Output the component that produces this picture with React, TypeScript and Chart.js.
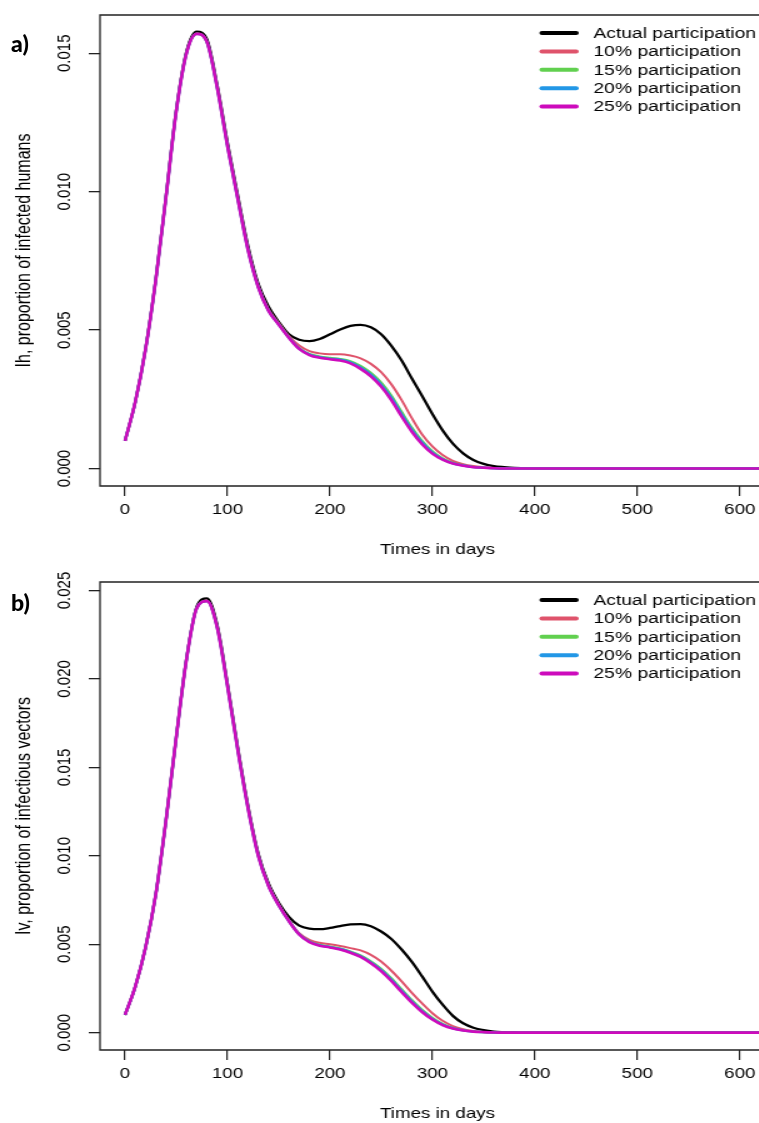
import { useEffect, useRef } from "react";
import { Chart, registerables } from "chart.js";

Chart.register(...registerables);

// ---------- data ----------
const times = [
  0, 10, 20, 30, 40, 50, 60, 70, 80, 90, 100, 110, 120, 130, 140, 150, 160, 170, 180, 190, 200,
  210, 220, 230, 240, 250, 260, 270, 280, 290, 300, 310, 320, 330, 340, 350, 360, 370, 380, 390, 400,
  500, 730,
];

const seriesLabels = [
  "Actual participation",
  "10% participation",
  "15% participation",
  "20% participation",
  "25% participation",
];
const seriesColors = ["#000000", "#DF536B", "#61D04F", "#2297E6", "#CD0BBC"];

const xTickValues = [0, 100, 200, 300, 400, 500, 600];
const yTickValuesHumans = [0, 0.005, 0.01, 0.015];
const yTickValuesVectors = [0, 0.005, 0.01, 0.015, 0.02, 0.025];

// Ih: proportion of infected humans
const humansActual = [
  0.001, 0.0024, 0.00431, 0.00682, 0.00983, 0.01294, 0.01506, 0.01578, 0.0155, 0.01385, 0.01178,
  0.00988, 0.00805, 0.00668, 0.00585, 0.0053, 0.00485, 0.00465, 0.0046, 0.00468, 0.00485,
  0.00502, 0.00515, 0.00519, 0.0051, 0.00485, 0.00443, 0.0039, 0.00325, 0.00262, 0.00197,
  0.00138, 0.0009, 0.00055, 0.00031, 0.00017, 0.00009, 0.00005, 0.00002, 0.00001, 0,
  0, 0,
];
const humans10 = [
  0.001, 0.0024, 0.0043, 0.0068, 0.0098, 0.0129, 0.015, 0.01571, 0.01541, 0.01377, 0.01168,
  0.00978, 0.00794, 0.0066, 0.00576, 0.00526, 0.00478, 0.00444, 0.00424, 0.00416, 0.00413,
  0.00413, 0.00408, 0.00398, 0.00378, 0.00348, 0.00304, 0.00247, 0.00182, 0.00123, 0.0008,
  0.00049, 0.00028, 0.00016, 0.00009, 0.00005, 0.00002, 0.00001, 0, 0, 0,
  0, 0,
];
const humans15 = [
  0.001, 0.0024, 0.0043, 0.0068, 0.0098, 0.0129, 0.015, 0.0157, 0.0154, 0.01376, 0.01166,
  0.00976, 0.00792, 0.00657, 0.00572, 0.00522, 0.00474, 0.00435, 0.00414, 0.00405, 0.004,
  0.00396, 0.00388, 0.00371, 0.00346, 0.00311, 0.00264, 0.00205, 0.00148, 0.001, 0.00063,
  0.00037, 0.00021, 0.00012, 0.00006, 0.00003, 0.00001, 0, 0, 0, 0,
  0, 0,
];
const humans20 = [
  0.001, 0.0024, 0.0043, 0.0068, 0.0098, 0.0129, 0.015, 0.0157, 0.0154, 0.01375, 0.01165,
  0.00975, 0.00791, 0.00656, 0.00571, 0.00521, 0.00473, 0.00433, 0.00412, 0.00402, 0.00397,
  0.00393, 0.00384, 0.00365, 0.00339, 0.00303, 0.00255, 0.00196, 0.0014, 0.00094, 0.00058,
  0.00034, 0.00019, 0.00011, 0.00005, 0.00003, 0.00001, 0, 0, 0, 0,
  0, 0,
];
const humans25 = [
  0.001, 0.0024, 0.0043, 0.0068, 0.0098, 0.0129, 0.015, 0.0157, 0.0154, 0.01375, 0.01165,
  0.00975, 0.0079, 0.00655, 0.0057, 0.0052, 0.00472, 0.00432, 0.0041, 0.004, 0.00395,
  0.0039, 0.0038, 0.0036, 0.00333, 0.00296, 0.00247, 0.00188, 0.00133, 0.00088, 0.00054,
  0.00032, 0.00018, 0.0001, 0.00005, 0.00003, 0.00001, 0, 0, 0, 0,
  0, 0,
];

// Iv: proportion of infectious vectors
const vectorsActual = [
  0.001, 0.0026, 0.0048, 0.0078, 0.0120, 0.0167, 0.02115, 0.02408, 0.02455, 0.02305, 0.01975,
  0.01615, 0.01285, 0.01015, 0.00845, 0.00735, 0.00655, 0.00605, 0.00588, 0.00585, 0.00592,
  0.00603, 0.00612, 0.00614, 0.00602, 0.00572, 0.0053, 0.0047, 0.004, 0.00318, 0.00232,
  0.00158, 0.00095, 0.00053, 0.00028, 0.00014, 0.00006, 0.00003, 0.00001, 0, 0,
  0, 0,
];
const vectors10 = [
  0.001, 0.0026, 0.0048, 0.0078, 0.012, 0.0167, 0.0211, 0.02401, 0.02442, 0.02292, 0.01963,
  0.01604, 0.01275, 0.01006, 0.00837, 0.00727, 0.00636, 0.00562, 0.00525, 0.00508, 0.005,
  0.0049, 0.00478, 0.00465, 0.0044, 0.00402, 0.0035, 0.0029, 0.00225, 0.00165, 0.0011,
  0.00067, 0.00037, 0.00019, 0.00009, 0.00004, 0.00002, 0.00001, 0, 0, 0,
  0, 0,
];
const vectors15 = [
  0.001, 0.0026, 0.0048, 0.0078, 0.012, 0.0167, 0.0211, 0.024, 0.0244, 0.02291, 0.01961,
  0.01602, 0.01272, 0.01002, 0.00832, 0.00722, 0.00632, 0.00557, 0.00516, 0.00497, 0.00487,
  0.00476, 0.00459, 0.00437, 0.00404, 0.00362, 0.00308, 0.00246, 0.00185, 0.0013, 0.00085,
  0.0005, 0.00027, 0.00014, 0.00007, 0.00003, 0.00001, 0, 0, 0, 0,
  0, 0,
];
const vectors20 = [
  0.001, 0.0026, 0.0048, 0.0078, 0.012, 0.0167, 0.0211, 0.024, 0.0244, 0.0229, 0.0196,
  0.01601, 0.01271, 0.01001, 0.00831, 0.00721, 0.00631, 0.00556, 0.00514, 0.00494, 0.00484,
  0.00473, 0.00455, 0.00432, 0.00397, 0.00354, 0.00299, 0.00237, 0.00176, 0.00122, 0.00078,
  0.00046, 0.00025, 0.00013, 0.00006, 0.00003, 0.00001, 0, 0, 0, 0,
  0, 0,
];
const vectors25 = [
  0.001, 0.0026, 0.0048, 0.0078, 0.012, 0.0167, 0.0211, 0.024, 0.0244, 0.0229, 0.0196,
  0.016, 0.0127, 0.01, 0.0083, 0.0072, 0.0063, 0.00555, 0.00512, 0.00492, 0.00482,
  0.0047, 0.00452, 0.00428, 0.00392, 0.00348, 0.00292, 0.0023, 0.0017, 0.00117, 0.00074,
  0.00043, 0.00023, 0.00012, 0.00006, 0.00003, 0.00001, 0, 0, 0, 0,
  0, 0,
];

const humansSeries = [humansActual, humans10, humans15, humans20, humans25];
const vectorsSeries = [vectorsActual, vectors10, vectors15, vectors20, vectors25];

// ---------- styling ----------
const STRETCH = 1.25; // the reference picture is stretched horizontally
const FONT = '"Liberation Sans", Arial, Helvetica, sans-serif';
const lineWidths = [2.3, 2, 2, 2.4, 2.6];
const drawOrder = [4, 3, 2, 1, 0];

const framePlugin = {
  id: "rframe",
  afterDatasetsDraw(chart: any) {
    const { ctx, chartArea } = chart;
    const { left, top, right, bottom } = chartArea;
    ctx.save();
    ctx.strokeStyle = "#222";
    ctx.lineWidth = 1.3;
    ctx.beginPath();
    ctx.moveTo(right + 5, top);
    ctx.lineTo(left, top);
    ctx.lineTo(left, bottom);
    ctx.lineTo(right + 5, bottom);
    ctx.stroke();
    ctx.restore();
  },
};

const legendPlugin = {
  id: "rlegend",
  afterDraw(chart: any) {
    const { ctx, chartArea } = chart;
    ctx.save();
    ctx.font = `15.4px ${FONT}`;
    ctx.textAlign = "left";
    ctx.textBaseline = "middle";
    ctx.lineCap = "round";
    chart.data.datasets.forEach((ds: any, i: number) => {
      const y = chartArea.top + 18 + i * 18.4;
      ctx.strokeStyle = ds.borderColor;
      ctx.lineWidth = 4;
      ctx.beginPath();
      ctx.moveTo(chartArea.right - 186.5, y);
      ctx.lineTo(chartArea.right - 159, y);
      ctx.stroke();
      ctx.fillStyle = "#000";
      ctx.fillText(ds.label, chartArea.right - 145.2, y + 0.5);
    });
    ctx.restore();
  },
};

function makeConfig(
  series: number[][],
  yMin: number,
  yMax: number,
  yTicks: number[],
  yTitle: string,
  topPad: number,
  xScaleHeight: number,
  xTitlePadBottom: number
): any {
  return {
    type: "line",
    data: {
      datasets: series.map((vals, i) => ({
        label: seriesLabels[i],
        data: times.map((t, j) => ({ x: t, y: vals[j] })),
        borderColor: seriesColors[i],
        backgroundColor: seriesColors[i],
        borderWidth: lineWidths[i],
        pointRadius: 0,
        cubicInterpolationMode: "monotone",
        fill: false,
        order: drawOrder[i],
      })),
    },
    options: {
      animation: false,
      responsive: false,
      devicePixelRatio: 1,
      events: [],
      layout: { padding: { left: 0, top: topPad, right: 20, bottom: 0 } },
      plugins: {
        legend: { display: false },
        tooltip: { enabled: false },
        title: { display: false },
      },
      scales: {
        x: {
          type: "linear",
          position: "bottom",
          min: -24.4,
          max: 634.4,
          afterBuildTicks: (scale: any) => {
            scale.ticks = xTickValues.map((v) => ({ value: v }));
          },
          afterFit: (scale: any) => {
            scale.height = xScaleHeight;
          },
          ticks: {
            autoSkip: false,
            maxRotation: 0,
            minRotation: 0,
            padding: 5,
            color: "#000",
            font: { family: FONT, size: 15 },
            callback: (v: any) => String(v),
          },
          grid: {
            display: true,
            drawOnChartArea: false,
            drawTicks: true,
            tickLength: 10,
            color: "#222",
            lineWidth: 1.2,
          },
          border: { display: false },
          title: {
            display: true,
            text: "Times in days",
            color: "#000",
            font: { family: FONT, size: 15 },
            padding: { top: 0, bottom: xTitlePadBottom },
          },
        },
        y: {
          type: "linear",
          position: "left",
          min: yMin,
          max: yMax,
          afterBuildTicks: (scale: any) => {
            scale.ticks = yTicks.map((v) => ({ value: v }));
          },
          afterFit: (scale: any) => {
            scale.width = 80;
          },
          ticks: {
            autoSkip: false,
            minRotation: 90,
            maxRotation: 90,
            crossAlign: "center",
            padding: 0,
            color: "#000",
            font: { family: FONT, size: 15 },
            callback: (v: any) => Number(v).toFixed(3),
          },
          grid: {
            display: true,
            drawOnChartArea: false,
            drawTicks: true,
            tickLength: 9,
            color: "#222",
            lineWidth: 1.3,
          },
          border: { display: false },
          title: {
            display: true,
            text: yTitle,
            color: "#000",
            font: { family: FONT, size: 16 },
            padding: { top: 10, bottom: 0 },
          },
        },
      },
    },
    plugins: [framePlugin, legendPlugin],
  };
}

export default function App() {
  const refA = useRef<HTMLCanvasElement | null>(null);
  const refB = useRef<HTMLCanvasElement | null>(null);

  useEffect(() => {
    const a = new Chart(
      refA.current as HTMLCanvasElement,
      makeConfig(humansSeries, -0.00063, 0.01638, yTickValuesHumans, "Ih, proportion of infected humans", 15, 84, 11)
    );
    const b = new Chart(
      refB.current as HTMLCanvasElement,
      makeConfig(vectorsSeries, -0.00098, 0.02548, yTickValuesVectors, "Iv, proportion of infectious vectors", 12, 73, 0)
    );
    return () => {
      a.destroy();
      b.destroy();
    };
  }, []);

  const stretchStyle: any = {
    position: "absolute",
    left: 0,
    transform: `scaleX(${STRETCH})`,
    transformOrigin: "0 0",
  };
  const panelLabel: any = {
    position: "absolute",
    left: 11,
    fontFamily: 'Lato, "Open Sans", sans-serif',
    fontWeight: 900,
    fontSize: 23,
    lineHeight: "23px",
    color: "#000",
  };

  return (
    <div
      style={{
        position: "absolute",
        left: 0,
        top: 0,
        width: 759,
        height: 1123,
        overflow: "hidden",
        background: "#fff",
      }}
    >
      <div style={{ ...stretchStyle, top: 0 }}>
        <canvas ref={refA} width={640} height={570} style={{ display: "block" }} />
      </div>
      <div style={{ ...stretchStyle, top: 570 }}>
        <canvas ref={refB} width={640} height={553} style={{ display: "block" }} />
      </div>
      <div style={{ ...panelLabel, top: 32 }}>a)</div>
      <div style={{ ...panelLabel, top: 591 }}>b)</div>
    </div>
  );
}
